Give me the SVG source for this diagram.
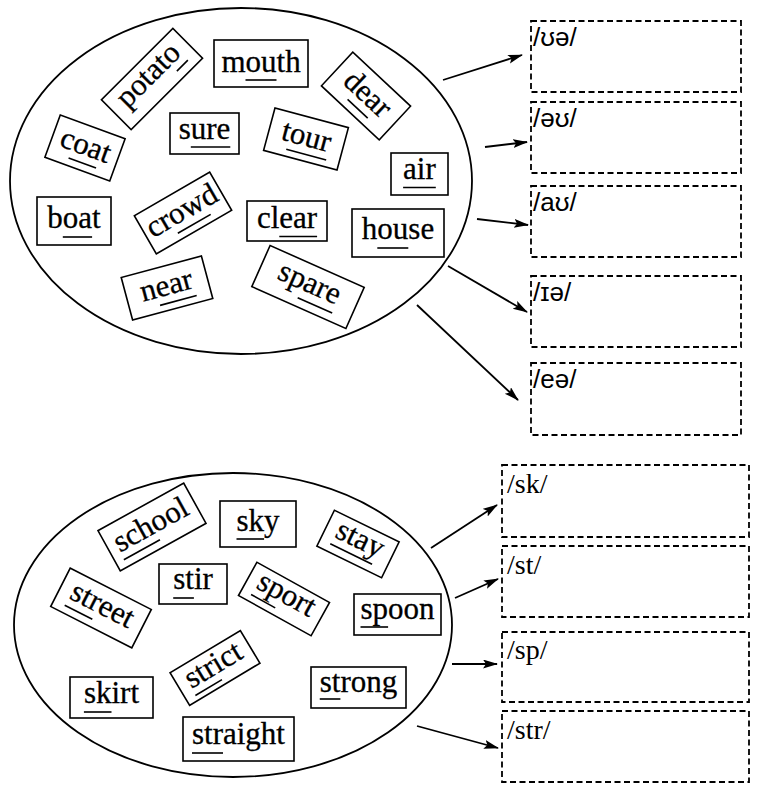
<svg xmlns="http://www.w3.org/2000/svg" width="758" height="791" viewBox="0 0 758 791">
<style>
.bg{fill:#fff}
.ell{fill:none;stroke:#000;stroke-width:1.8}
.box{fill:#fff;stroke:#000;stroke-width:1.6}
.w{font-family:"Liberation Serif","Times New Roman",serif;font-size:31px;fill:#000;stroke:#000;stroke-width:0.3}
.ul{stroke:#000;stroke-width:1.6}
.dash{fill:none;stroke:#000;stroke-width:1.8;stroke-dasharray:6 3.5}
.ipa{font-family:"Liberation Sans","DejaVu Sans",sans-serif;font-size:26px;fill:#000}
.lbl{font-family:"Liberation Serif","Times New Roman",serif;font-size:28px;fill:#000}
.arr{stroke:#000;stroke-width:1.8;fill:none;marker-end:url(#ah)}
</style>
<defs>
<marker id="ah" markerUnits="userSpaceOnUse" markerWidth="16" markerHeight="10" refX="14" refY="4.5" orient="auto">
<path d="M0,0 L15,4.5 L0,9 L3,4.5 z" fill="#000"/>
</marker>
</defs>
<rect class="bg" x="0" y="0" width="758" height="791"/>

<g id="ellipse-top"><ellipse class="ell" cx="241" cy="181" rx="231" ry="173"/></g>
<g id="ellipse-bottom"><ellipse class="ell" cx="233" cy="625" rx="219" ry="152"/></g>

<g id="w-potato" transform="translate(152,79) rotate(-45)"><rect class="box" x="-50.5" y="-21" width="101" height="42"/><text class="w" x="-38.75" y="4">potato</text><line class="ul" x1="23.2" y1="12" x2="38.7" y2="12"/></g>
<g id="w-mouth" transform="translate(261,63.5)"><rect class="box" x="-47" y="-23.5" width="94" height="47"/><text class="w" x="-39.6" y="8">mouth</text><line class="ul" x1="-15.5" y1="16.5" x2="15.5" y2="16.5"/></g>
<g id="w-dear" transform="translate(366,96) rotate(43)"><rect class="box" x="-39.5" y="-23" width="79" height="46"/><text class="w" x="-26.7" y="7">dear</text><line class="ul" x1="-11.2" y1="15" x2="16.3" y2="15"/></g>
<g id="w-coat" transform="translate(85,148) rotate(20)"><rect class="box" x="-34.5" y="-22.5" width="69" height="45"/><text class="w" x="-25.8" y="7">coat</text><line class="ul" x1="-12" y1="15" x2="17.2" y2="15"/></g>
<g id="w-sure" transform="translate(204.5,133.5)"><rect class="box" x="-34.5" y="-20.5" width="69" height="41"/><text class="w" x="-25.8" y="5">sure</text><line class="ul" x1="-13.7" y1="13.5" x2="25.8" y2="13.5"/></g>
<g id="w-tour" transform="translate(306,139) rotate(15)"><rect class="box" x="-38" y="-22" width="76" height="44"/><text class="w" x="-25" y="7">tour</text><line class="ul" x1="-16.4" y1="15" x2="24.9" y2="15"/></g>
<g id="w-air" transform="translate(419.5,174)"><rect class="box" x="-28.5" y="-21" width="57" height="42"/><text class="w" x="-16.4" y="5">air</text><line class="ul" x1="-16.4" y1="13.5" x2="16.3" y2="13.5"/></g>
<g id="w-boat" transform="translate(74,221)"><rect class="box" x="-37" y="-24" width="74" height="48"/><text class="w" x="-26.7" y="7">boat</text><line class="ul" x1="-11.2" y1="16" x2="18.1" y2="16"/></g>
<g id="w-crowd" transform="translate(183,213) rotate(-30)"><rect class="box" x="-43.5" y="-22" width="87" height="44"/><text class="w" x="-38.7" y="7">crowd</text><line class="ul" x1="-14.6" y1="15" x2="23.3" y2="15"/></g>
<g id="w-clear" transform="translate(287,221)"><rect class="box" x="-40" y="-20" width="80" height="40"/><text class="w" x="-30.1" y="7">clear</text><line class="ul" x1="-7.7" y1="15.5" x2="30.1" y2="15.5"/></g>
<g id="w-house" transform="translate(398,233)"><rect class="box" x="-46" y="-24" width="92" height="48"/><text class="w" x="-36.2" y="6">house</text><line class="ul" x1="-20.7" y1="15" x2="10.3" y2="15"/></g>
<g id="w-near" transform="translate(167,288) rotate(-15)"><rect class="box" x="-41.5" y="-22" width="83" height="44"/><text class="w" x="-26.7" y="7">near</text><line class="ul" x1="-11.2" y1="15" x2="26.7" y2="15"/></g>
<g id="w-spare" transform="translate(308,287) rotate(24)"><rect class="box" x="-51.5" y="-22.5" width="103" height="45"/><text class="w" x="-32.7" y="5">spare</text><line class="ul" x1="-5.1" y1="14" x2="32.7" y2="14"/></g>

<g id="w-school" transform="translate(152,527) rotate(-29)"><rect class="box" x="-49" y="-23" width="98" height="46"/><text class="w" x="-40.5" y="7">school</text><line class="ul" x1="-40.5" y1="15" x2="0.8" y2="15"/></g>
<g id="w-sky" transform="translate(258,524)"><rect class="box" x="-38" y="-23" width="76" height="46"/><text class="w" x="-21.5" y="7">sky</text><line class="ul" x1="-21.5" y1="15" x2="6.1" y2="15"/></g>
<g id="w-stay" transform="translate(358,544) rotate(26)"><rect class="box" x="-36" y="-20" width="72" height="40"/><text class="w" x="-25" y="4">stay</text><line class="ul" x1="-25" y1="12" x2="21.5" y2="12"/></g>
<g id="w-stir" transform="translate(193,584)"><rect class="box" x="-34" y="-20" width="68" height="40"/><text class="w" x="-19.8" y="5">stir</text><line class="ul" x1="-19.8" y1="14" x2="0.9" y2="14"/></g>
<g id="w-street" transform="translate(101,608) rotate(27)"><rect class="box" x="-45.5" y="-21.5" width="91" height="43"/><text class="w" x="-33.6" y="6">street</text><line class="ul" x1="-33.6" y1="14" x2="-2.6" y2="14"/></g>
<g id="w-sport" transform="translate(284,599) rotate(29)"><rect class="box" x="-41.5" y="-19" width="83" height="38"/><text class="w" x="-31" y="4">sport</text><line class="ul" x1="-31" y1="12" x2="-3.4" y2="12"/></g>
<g id="w-spoon" transform="translate(397.5,614.5)"><rect class="box" x="-43.5" y="-20.5" width="87" height="41"/><text class="w" x="-37" y="4">spoon</text><line class="ul" x1="-37" y1="12.5" x2="-9.4" y2="12.5"/></g>
<g id="w-strict" transform="translate(215,668) rotate(-31)"><rect class="box" x="-41" y="-19" width="82" height="38"/><text class="w" x="-31" y="6">strict</text><line class="ul" x1="-31" y1="13.5" x2="0" y2="13.5"/></g>
<g id="w-skirt" transform="translate(111.5,697.5)"><rect class="box" x="-41.5" y="-20.5" width="83" height="41"/><text class="w" x="-27.6" y="5.5">skirt</text><line class="ul" x1="-27.6" y1="14.5" x2="0" y2="14.5"/></g>
<g id="w-strong" transform="translate(358.5,687.5)"><rect class="box" x="-47.5" y="-20.5" width="95" height="41"/><text class="w" x="-38.75" y="4">strong</text><line class="ul" x1="-38.75" y1="11.5" x2="-18.1" y2="11.5"/></g>
<g id="w-straight" transform="translate(238.5,739)"><rect class="box" x="-55.5" y="-22" width="111" height="44"/><text class="w" x="-46.5" y="4.5">straight</text><line class="ul" x1="-46.5" y1="14" x2="-15.5" y2="14"/></g>

<g id="t-ue"><rect class="dash" x="531" y="21" width="210" height="71"/><text class="ipa" x="533" y="46">/ʊə/</text></g>
<g id="t-ou"><rect class="dash" x="531" y="102" width="210" height="71"/><text class="ipa" x="533" y="127">/əʊ/</text></g>
<g id="t-au"><rect class="dash" x="531" y="186" width="210" height="71"/><text class="ipa" x="533" y="211">/aʊ/</text></g>
<g id="t-ie"><rect class="dash" x="531" y="276" width="210" height="71"/><text class="ipa" x="533" y="301">/ɪə/</text></g>
<g id="t-ee"><rect class="dash" x="531" y="363" width="210" height="72"/><text class="ipa" x="533" y="388">/eə/</text></g>

<g id="t-sk"><rect class="dash" x="502" y="465" width="247" height="72"/><text class="lbl" x="507" y="493">/sk/</text></g>
<g id="t-st"><rect class="dash" x="502" y="546" width="247" height="71"/><text class="lbl" x="507" y="574">/st/</text></g>
<g id="t-sp"><rect class="dash" x="502" y="632" width="247" height="70"/><text class="lbl" x="507" y="659">/sp/</text></g>
<g id="t-str"><rect class="dash" x="502" y="711" width="247" height="71"/><text class="lbl" x="507" y="739">/str/</text></g>

<g id="connectors">
<line class="arr" x1="443" y1="80" x2="522" y2="55"/>
<line class="arr" x1="485" y1="147" x2="527" y2="142"/>
<line class="arr" x1="477" y1="219" x2="528" y2="225"/>
<line class="arr" x1="448" y1="266" x2="527" y2="312"/>
<line class="arr" x1="417" y1="305" x2="518" y2="400"/>
<line class="arr" x1="431" y1="548" x2="497" y2="505"/>
<line class="arr" x1="455" y1="598" x2="498" y2="579"/>
<line class="arr" x1="452" y1="664" x2="497" y2="664"/>
<line class="arr" x1="417" y1="726" x2="498" y2="748"/>
</g>
</svg>
